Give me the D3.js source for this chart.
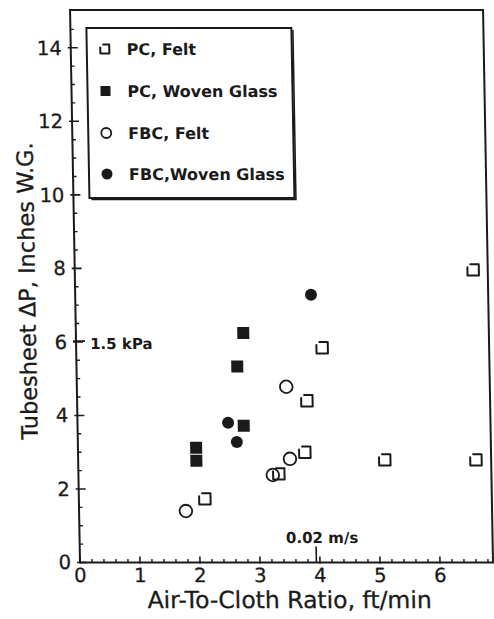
<!DOCTYPE html>
<html>
<head>
<meta charset="utf-8">
<script src="https://cdn.jsdelivr.net/npm/d3@7"></script>
<style>
  body { margin: 0; background: #fff; }
  svg { display: block; }
  text { font-family: "DejaVu Sans", sans-serif; fill: #1a1a1a; }
</style>
</head>
<body>
<svg id="chart" width="494" height="619"></svg>
<script>
// values
var seriesNames = ["PC, Felt", "PC, Woven Glass", "FBC, Felt", "FBC,Woven Glass"];

var pcFeltX = [2.10, 3.34, 3.78, 3.83, 4.10, 5.11, 6.63, 6.64];
var pcFeltY = [1.73, 2.41, 3.00, 4.40, 5.84, 2.79, 2.79, 7.96];

var pcGlassX = [1.97, 1.97, 2.68, 2.77, 2.79];
var pcGlassY = [2.77, 3.12, 5.33, 3.72, 6.24];

var fbcFeltX = [1.78, 3.24, 3.49, 3.53];
var fbcFeltY = [1.40, 2.38, 4.78, 2.82];

var fbcGlassX = [2.51, 2.65, 3.93];
var fbcGlassY = [3.80, 3.28, 7.28];

var xTicks = [0, 1, 2, 3, 4, 5, 6, 7];
var yTicks = [0, 2, 4, 6, 8, 10, 12, 14];

var xTitle = "Air-To-Cloth Ratio, ft/min";
var yTitle = "Tubesheet \u0394P, Inches W.G.";
var kpaLabel = "1.5 kPa";   // 1.5 kPa = 6.02 in W.G.
var msLabel = "0.02 m/s";   // 0.02 m/s = 3.94 ft/min
var kpaValue = 6.02;
var msValue = 3.94;

var svg = d3.select('#chart');
var ink = '#1a1a1a';

// the scan is slightly sheared, so lean everything a little
var k = 0.018;
var g = svg.append('g')
  .attr('transform', 'translate(' + (-562.5 * k) + ',0) skewX(' + (Math.atan(k) * 180 / Math.PI) + ')');

var x = d3.scaleLinear().domain([0, 7]).range([80, 500]);
var y = d3.scaleLinear().domain([0, 15]).range([562.5, 11]);

// frame
g.append('path')
  .attr('d', 'M' + x(0) + ',' + y(0) + 'V10H493V' + y(0))
  .attr('fill', 'none').attr('stroke', ink).attr('stroke-width', 2);
g.append('line')
  .attr('x1', x(0)).attr('x2', 500).attr('y1', y(0)).attr('y2', y(0))
  .attr('stroke', ink).attr('stroke-width', 2.2);

// y ticks
var yMinor = d3.range(0.5, 15, 0.5).filter(function(v) { return v % 2 !== 0; });
g.selectAll('.ymin').data(yMinor).enter().append('line')
  .attr('x1', x(0)).attr('x2', x(0) + 3.5)
  .attr('y1', function(d) { return y(d); }).attr('y2', function(d) { return y(d); })
  .attr('stroke', ink).attr('stroke-width', 1.4);
g.selectAll('.ymaj').data(yTicks).enter().append('line')
  .attr('x1', x(0) - 3).attr('x2', x(0) + 7)
  .attr('y1', function(d) { return y(d); }).attr('y2', function(d) { return y(d); })
  .attr('stroke', ink).attr('stroke-width', 1.6);
g.selectAll('.ylab').data(yTicks).enter().append('text')
  .attr('x', x(0) - 9).attr('y', function(d) { return y(d) + 7; })
  .attr('text-anchor', 'end').attr('font-size', 19.5)
  .attr('stroke', ink).attr('stroke-width', 0.3)
  .text(function(d) { return d; });

// x ticks
var xMinor = d3.range(0.2, 7.01, 0.2).filter(function(v) { return Math.abs(v - Math.round(v)) > 0.01; });
g.selectAll('.xmin').data(xMinor).enter().append('line')
  .attr('x1', function(d) { return x(d); }).attr('x2', function(d) { return x(d); })
  .attr('y1', y(0)).attr('y2', y(0) - 3.5)
  .attr('stroke', ink).attr('stroke-width', 1.4);
g.selectAll('.xmaj').data(xTicks).enter().append('line')
  .attr('x1', function(d) { return x(d); }).attr('x2', function(d) { return x(d); })
  .attr('y1', y(0) + 1).attr('y2', y(0) - 6)
  .attr('stroke', ink).attr('stroke-width', 1.6);
g.selectAll('.xlab').data(xTicks).enter().append('text')
  .attr('x', function(d) { return x(d); }).attr('y', 582)
  .attr('text-anchor', 'middle').attr('font-size', 19.5)
  .attr('stroke', ink).attr('stroke-width', 0.3)
  .text(function(d) { return d; });

// SI reference marks
g.append('line')
  .attr('x1', x(msValue)).attr('x2', x(msValue)).attr('y1', y(0)).attr('y2', y(0) - 16)
  .attr('stroke', ink).attr('stroke-width', 1.6);
g.append('text')
  .attr('x', x(msValue) - 30).attr('y', 543)
  .attr('font-size', 15).attr('font-weight', 'bold')
  .text(msLabel);
g.append('line')
  .attr('x1', x(0) - 3).attr('x2', x(0) + 9).attr('y1', y(kpaValue)).attr('y2', y(kpaValue))
  .attr('stroke', ink).attr('stroke-width', 1.6);
g.append('text')
  .attr('x', 94).attr('y', 349)
  .attr('font-size', 15).attr('font-weight', 'bold')
  .text(kpaLabel);

// axis titles
g.append('text')
  .attr('x', 289).attr('y', 608)
  .attr('text-anchor', 'middle').attr('font-size', 23.5)
  .attr('stroke', ink).attr('stroke-width', 0.3)
  .text(xTitle);
g.append('text')
  .attr('transform', 'translate(40,291) rotate(-90)')
  .attr('text-anchor', 'middle').attr('font-size', 22.5)
  .attr('stroke', ink).attr('stroke-width', 0.3)
  .text(yTitle);

// marker drawing
function openSquare(sel, s) {
  sel.append('path')
    .attr('d', 'M' + (-s + 3) + ',' + (-s) + 'H' + s + 'V' + s + 'H' + (-s) + 'V' + (-s + 3))
    .attr('fill', 'none').attr('stroke', ink).attr('stroke-width', 2)
    .attr('stroke-linejoin', 'round').attr('stroke-linecap', 'round');
}
function filledSquare(sel, s) {
  sel.append('rect')
    .attr('x', -s).attr('y', -s).attr('width', 2 * s).attr('height', 2 * s)
    .attr('fill', ink);
}
function openCircle(sel, r) {
  sel.append('circle').attr('r', r)
    .attr('fill', 'none').attr('stroke', ink).attr('stroke-width', 1.8);
}
function filledCircle(sel, r) {
  sel.append('circle').attr('r', r).attr('fill', ink);
}

function plot(xs, ys, draw, size) {
  var pts = xs.map(function(v, i) { return [v, ys[i]]; });
  g.append('g').selectAll('g').data(pts).enter().append('g')
    .attr('transform', function(d) { return 'translate(' + x(d[0]) + ',' + y(d[1]) + ')'; })
    .each(function() { draw(d3.select(this), size); });
}

plot(pcFeltX, pcFeltY, openSquare, 5.7);
plot(pcGlassX, pcGlassY, filledSquare, 6);
plot(fbcFeltX, fbcFeltY, openCircle, 6.3);
plot(fbcGlassX, fbcGlassY, filledCircle, 6);

// legend
var legend = g.append('g');
legend.append('rect')
  .attr('x', 96).attr('y', 28).attr('width', 205).attr('height', 170)
  .attr('fill', '#fff').attr('stroke', ink).attr('stroke-width', 2);
legend.append('path')
  .attr('d', 'M98,199.5H302.5V30')
  .attr('fill', 'none').attr('stroke', ink).attr('stroke-width', 1.5);

var legendDraw = [openSquare, filledSquare, openCircle, filledCircle];
var legendSize = [4.5, 5, 5, 5.5];
var legendBase = [55, 97, 139, 180];
seriesNames.forEach(function(name, i) {
  var row = legend.append('g');
  legendDraw[i](row.append('g').attr('transform', 'translate(114,' + (legendBase[i] - 6) + ')'), legendSize[i]);
  row.append('text')
    .attr('x', 136).attr('y', legendBase[i])
    .attr('font-size', 16).attr('font-weight', 'bold')
    .text(name);
});
</script>
</body>
</html>
